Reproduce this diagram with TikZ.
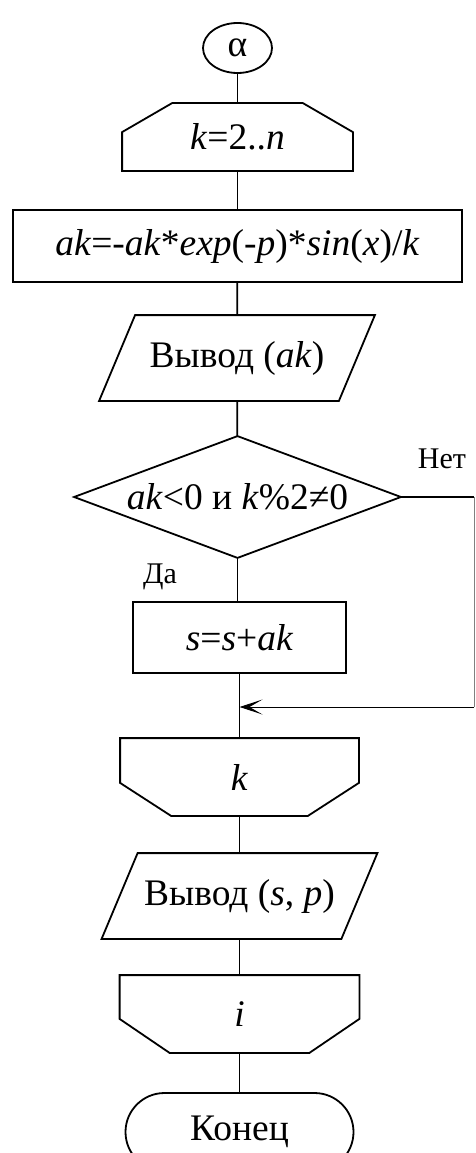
\documentclass[tikz,border=0pt]{standalone}
\usepackage{fontspec}
\setmainfont{Liberation Serif}
\usetikzlibrary{shapes.geometric,arrows.meta}

\begin{document}
\begin{tikzpicture}[x=1pt,y=-1pt,line width=1.8pt,font=\fontsize{37.5}{42}\selectfont]
    \tikzstyle{block} = [rectangle, draw, inner sep=0pt]
    \tikzstyle{holder} = [rectangle, inner sep=0pt]
    \tikzstyle{answer} = [inner sep=0pt, font=\fontsize{30}{33}\selectfont]
    \tikzstyle{back} = [line width=1pt]
    \tikzstyle{flow} = [back, -{Stealth[length=23pt, width=15pt, inset=13pt]}]

    \clip (0,0) rectangle (475,1153);

    % blocks
    \node[ellipse, draw, minimum width=69pt, minimum height=50pt, inner sep=0pt] (start) at (237.5,48) {α};
    \node[holder, minimum width=229pt, minimum height=66pt] (loopk) at (237.5,137) {\raisebox{-9pt}{\textit{k}=2..\textit{n}}};
    \node[block, minimum width=449pt, minimum height=72pt] (calc) at (237.5,246) {\textit{ak}=-\textit{ak}*\textit{exp}(-\textit{p})*\textit{sin}(\textit{x})/\textit{k}};
    \node[holder, minimum width=274pt, minimum height=84pt] (outak) at (237,358) {\raisebox{5pt}{Вывод (\textit{ak})}};
    \node[holder, minimum width=325pt, minimum height=120pt] (cond) at (237.5,497) {\raisebox{-5pt}{\textit{ak}<0 и \textit{k}\%2≠0}};
    \node[block, minimum width=213pt, minimum height=71pt] (sum) at (239.5,637.5) {\textit{s}=\textit{s}+\textit{ak}};
    \coordinate (merge) at (239.5,707);
    \coordinate (turn) at (474,497);
    \node[holder, minimum width=237pt, minimum height=76pt] (endk) at (239.5,777) {\raisebox{-5pt}{\textit{k}}};
    \node[holder, minimum width=274pt, minimum height=84pt] (outsp) at (239.5,896) {\raisebox{6pt}{Вывод (\textit{s}, \textit{p})}};
    \node[holder, minimum width=238pt, minimum height=76pt] (endi) at (239.5,1014) {\raisebox{-2pt}{\textit{i}}};
    \node[draw, rounded corners=39pt, minimum width=228pt, minimum height=78pt, inner sep=0pt] (stop) at (239.5,1132) {Конец};

    % outlines
    \draw (loopk.south west) -- (loopk.south east) -- ([yshift=-29pt]loopk.north east) -- ([xshift=-50pt]loopk.north east)
        -- ([xshift=50pt]loopk.north west) -- ([yshift=-29pt]loopk.north west) -- cycle;
    \draw (outak.south west) -- ([xshift=-36pt]outak.south east) -- (outak.north east) -- ([xshift=36pt]outak.north west) -- cycle;
    \draw (cond.north) -- (cond.east) -- (cond.south) -- (cond.west) -- cycle;
    \draw (endk.north west) -- (endk.north east) -- ([yshift=33pt]endk.south east) -- ([xshift=-51pt]endk.south east)
        -- ([xshift=51pt]endk.south west) -- ([yshift=33pt]endk.south west) -- cycle;
    \draw (outsp.south west) -- ([xshift=-36pt]outsp.south east) -- (outsp.north east) -- ([xshift=36pt]outsp.north west) -- cycle;
    \draw (endi.north west) -- (endi.north east) -- ([yshift=34pt]endi.south east) -- ([xshift=-50pt]endi.south east)
        -- ([xshift=50pt]endi.south west) -- ([yshift=34pt]endi.south west) -- cycle;

    % labels
    \node[answer] (no) at (442,459) {Нет};
    \node[answer] (yes) at (160,577) {Да};

    % connectors
    \draw (start) -- (loopk);
    \draw (loopk) -- (calc);
    \draw (calc) -- (outak);
    \draw (outak) -- (cond);
    \draw (cond.south) -- (cond.south |- sum.north);
    \draw (sum) -- (merge) -- (endk);
    \draw (endk) -- (outsp);
    \draw (outsp) -- (endi);
    \draw (endi) -- (stop);
    \draw (cond.east) -- (turn);
    \draw[back, draw=gray] (turn) -- (turn |- merge);
    \draw[flow] (turn |- merge) -- (merge);
\end{tikzpicture}
\end{document}
